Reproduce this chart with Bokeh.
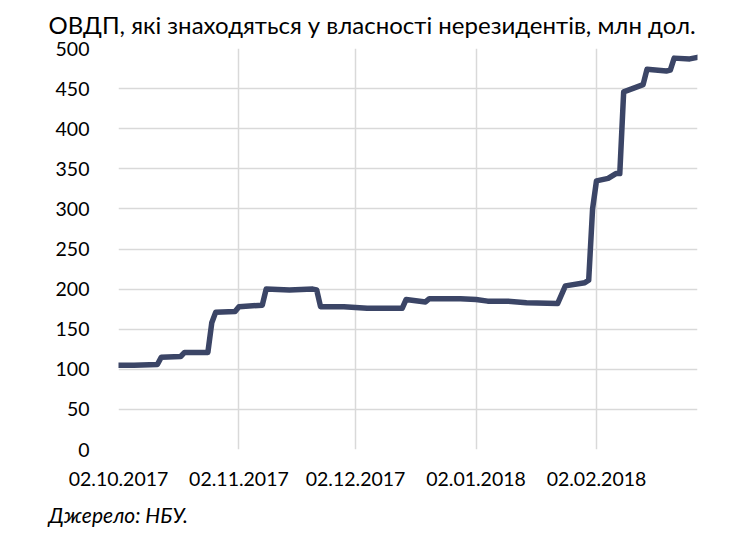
import pandas as pd
from bokeh.plotting import figure
from bokeh.models import Title, FixedTicker, DatetimeTickFormatter, Range1d, ColumnDataSource
from bokeh.embed import file_html
from bokeh.resources import INLINE

title_text = "ОВДП, які знаходяться у власності нерезидентів, млн дол."
source_text = "Джерело: НБУ."

dates = ["2017-10-02", "2017-10-06", "2017-10-12", "2017-10-13", "2017-10-18", "2017-10-19",
         "2017-10-25", "2017-10-26", "2017-10-27", "2017-11-01", "2017-11-02", "2017-11-08",
         "2017-11-09", "2017-11-15", "2017-11-21", "2017-11-22", "2017-11-23", "2017-11-29",
         "2017-12-05", "2017-12-14", "2017-12-15", "2017-12-20", "2017-12-21", "2017-12-29",
         "2018-01-02", "2018-01-05", "2018-01-10", "2018-01-15", "2018-01-23", "2018-01-25",
         "2018-01-30", "2018-01-31", "2018-02-01", "2018-02-02", "2018-02-05", "2018-02-07",
         "2018-02-08", "2018-02-09", "2018-02-14", "2018-02-15", "2018-02-20", "2018-02-21",
         "2018-02-22", "2018-02-26", "2018-02-28"]
values = [105, 105, 106, 115, 116, 121,
          121, 158, 171, 172, 178, 180,
          200, 199, 200, 199, 178, 178,
          176, 176, 187, 184, 188, 188,
          187, 185, 185, 183, 182, 204,
          208, 211, 300, 335, 338, 344,
          344, 446, 455, 474, 472, 473,
          488, 487, 489]

tick_dates = ["2017-10-02", "2017-11-02", "2017-12-02", "2018-01-02", "2018-02-02"]
y_ticks = list(range(0, 501, 50))

FONT = "Lato"

x = pd.to_datetime(dates)
src = ColumnDataSource(dict(x=x, y=values))

W, H = 750, 538
p = figure(width=W, height=H, x_axis_type="datetime", output_backend="svg",
           toolbar_location=None, min_border_left=118, min_border_right=53,
           min_border_top=48, min_border_bottom=89)
p.x_range = Range1d(pd.Timestamp("2017-10-02"), pd.Timestamp("2018-02-28"))
p.y_range = Range1d(0, 500)
p.outline_line_color = None

p.line("x", "y", source=src, line_width=5.5, line_color="#3b4566", line_join="round", line_cap="round")

tick_ms = [pd.Timestamp(d).value // 10**6 for d in tick_dates]
p.xaxis.ticker = FixedTicker(ticks=tick_ms)
p.xaxis.formatter = DatetimeTickFormatter(days="%d.%m.%Y", months="%d.%m.%Y", years="%d.%m.%Y")
p.yaxis.ticker = FixedTicker(ticks=y_ticks)
for ax in (p.xaxis, p.yaxis):
    ax.axis_line_color = None
    ax.major_tick_line_color = None
    ax.minor_tick_line_color = None
    ax.major_label_text_font = FONT
    ax.major_label_text_font_size = "19.5px"
    ax.major_label_text_color = "#000000"
p.yaxis.major_label_standoff = 23
p.xaxis.major_label_standoff = 16
p.xgrid.ticker = FixedTicker(ticks=tick_ms)
p.ygrid.ticker = FixedTicker(ticks=y_ticks)
p.grid.grid_line_color = "#d9d9d9"
p.grid.grid_line_width = 1.5

p.add_layout(Title(text=title_text, align="left", offset=-70, standoff=16, vertical_align="top",
                   text_font=FONT, text_font_size="24px", text_font_style="normal",
                   text_color="#000000"), "above")
p.add_layout(Title(text=source_text, align="left", offset=-70, standoff=22, vertical_align="bottom",
                   text_font=FONT, text_font_size="21px", text_font_style="italic",
                   text_color="#000000"), "below")

open("out.html", "w").write(file_html(p, INLINE))
